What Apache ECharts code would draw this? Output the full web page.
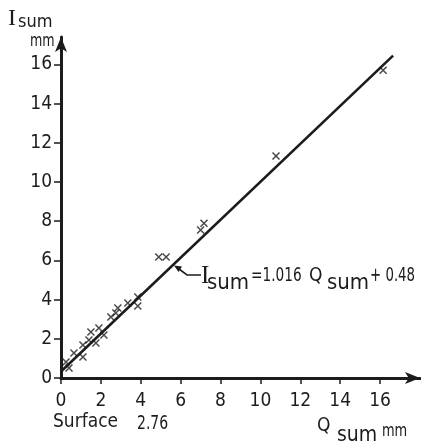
<!DOCTYPE html>
<html><head><meta charset="utf-8">
<script src="https://cdn.jsdelivr.net/npm/echarts@6/dist/echarts.min.js"></script>
<style>html,body{margin:0;padding:0;background:#fff}#c{width:421px;height:443px}</style>
</head><body><div id="c"></div>
<script>
// Data
const tickValues = [0, 2, 4, 6, 8, 10, 12, 14, 16];
const pointsQ = [0.25, 0.4, 0.65, 1.1, 1.1, 1.4, 1.5, 1.75, 1.9, 2.15, 2.5, 2.75, 2.85, 3.35, 3.85, 3.85, 4.9, 5.27, 7.0, 7.17, 10.78, 16.15];
const pointsI = [0.82, 0.51, 1.28, 1.07, 1.68, 1.94, 2.35, 1.79, 2.55, 2.19, 3.11, 3.32, 3.57, 3.83, 4.13, 3.67, 6.17, 6.17, 7.55, 7.9, 11.33, 15.7];
const fitQ = [0, 16.65];
const fitI = [0.33, 16.45];
const yTitle = ['I', 'sum', 'mm'];
const xTitle = ['Q', 'sum', 'mm'];
const sampleLabel = ['Surface', '2.76'];
const equation = ['I', 'sum', '=1.016', 'Q', 'sum', '+ 0.48'];

const INK = '#1c1c1c';
const NUM = '"DejaVu Sans Condensed","DejaVu Sans",sans-serif';
const WORD = '"DejaVu Sans Condensed","DejaVu Sans",sans-serif';
const SERIF = '"Liberation Serif","DejaVu Serif",serif';

const chart = echarts.init(document.getElementById('c'), null, {renderer: 'canvas'});

function txt(text, x, y, font, sx) {
  return {type: 'text', x: x, y: y, z: 10, scaleX: sx || 1,
    style: {text: text, font: font, fill: INK, align: 'left', verticalAlign: 'middle'}};
}

const scatterData = pointsQ.map((q, i) => [q, pointsI[i]]);
const fitData = fitQ.map((q, i) => [q, fitI[i]]);

chart.setOption({
  backgroundColor: '#fff',
  animation: false,
  grid: {left: 61, right: 1, top: 37, bottom: 65},
  xAxis: {
    type: 'value', min: 0, max: 18, interval: 2,
    splitLine: {show: false},
    axisLine: {show: true, onZero: false, symbol: ['none', 'arrow'], symbolSize: [9, 15],
      lineStyle: {color: INK, width: 3}},
    axisTick: {show: true, length: 6, customValues: tickValues, lineStyle: {color: INK, width: 1.5}},
    axisLabel: {customValues: tickValues, margin: 14, color: INK, fontFamily: NUM, fontSize: 19}
  },
  yAxis: {
    type: 'value', min: 0, max: 17.4, interval: 2,
    splitLine: {show: false},
    axisLine: {show: true, onZero: false, symbol: ['none', 'arrow'], symbolSize: [9, 15],
      lineStyle: {color: INK, width: 3}},
    axisTick: {show: true, length: 7, customValues: tickValues, lineStyle: {color: INK, width: 1.5}},
    axisLabel: {customValues: tickValues, margin: 9, color: INK, fontFamily: NUM, fontSize: 19}
  },
  series: [
    {type: 'line', data: fitData, showSymbol: false, symbol: 'none',
      lineStyle: {color: INK, width: 2.6}, z: 3},
    {type: 'scatter', data: scatterData, symbol: 'path://M0,0L10,10M10,0L0,10', symbolSize: 7,
      itemStyle: {color: 'none', borderColor: INK, borderWidth: 1.5}, z: 4}
  ],
  graphic: [
    txt(yTitle[0], 8, 19, '24px ' + SERIF),
    txt(yTitle[1], 18, 22.5, '18px ' + WORD),
    txt(yTitle[2], 30, 41.5, '18px ' + NUM, 0.78),
    txt(sampleLabel[0], 53, 422.5, '19px ' + WORD),
    txt(sampleLabel[1], 137, 424, '19px ' + NUM, 0.82),
    txt(xTitle[0], 317, 426, '19px ' + NUM),
    txt(xTitle[1], 337, 435.5, '21px ' + WORD),
    txt(xTitle[2], 382, 431, '18px ' + NUM, 0.8),
    txt(equation[0], 201, 276.5, '25px ' + SERIF),
    txt(equation[1], 207, 283.5, '22px ' + WORD),
    txt(equation[2], 251, 276.5, '19px ' + NUM, 0.8),
    txt(equation[3], 309, 276, '19px ' + NUM),
    txt(equation[4], 327, 283.5, '22px ' + WORD),
    txt(equation[5], 370, 276.5, '19px ' + NUM, 0.78),
    {type: 'polyline', z: 10, shape: {points: [[201, 275], [187, 275], [179, 269]]},
      style: {stroke: INK, lineWidth: 1.6, fill: null}},
    {type: 'polygon', z: 10, shape: {points: [[174, 265.5], [182, 266.5], [178.5, 272]]},
      style: {fill: INK}}
  ]
});
</script>
</body></html>
